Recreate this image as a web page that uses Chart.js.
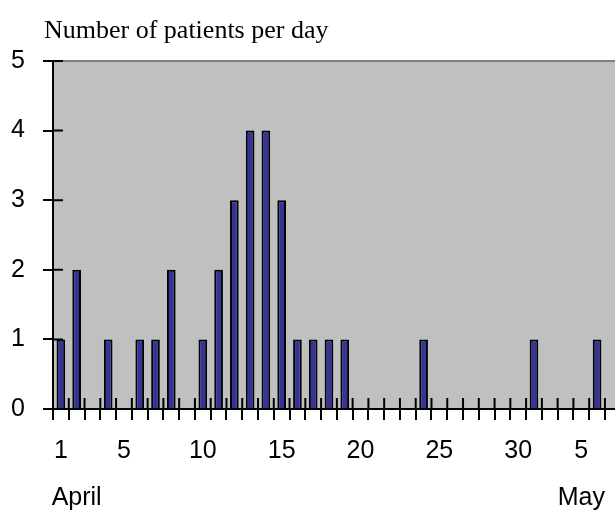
<!DOCTYPE html>
<html>
<head>
<meta charset="utf-8">
<script src="https://cdn.jsdelivr.net/npm/chart.js@4"></script>
<style>
  html, body { margin: 0; padding: 0; background: #fff; overflow: hidden; }
  canvas { display: block; }
</style>
</head>
<body>
<canvas id="patientsChart" width="632" height="510"></canvas>
<script>
// patients per day, 1 April .. 5 May
const patients = [1, 2, 0, 1, 0, 1, 1, 2, 0, 1,
                  2, 3, 4, 4, 3, 1, 1, 1, 1, 0,
                  0, 0, 0, 1, 0, 0, 0, 0, 0, 0,
                  1, 0, 0, 0, 1];

// tick labels as printed under the axis (last slot is the cut-off edge)
const dayLabels = ["1", "", "", "", "5", "", "", "", "", "10",
                   "", "", "", "", "15", "", "", "", "", "20",
                   "", "", "", "", "25", "", "", "", "", "30",
                   "", "", "", "5", "", ""];
const monthLabels = ["", "April", "", "", "", "", "", "", "", "",
                     "", "", "", "", "", "", "", "", "", "",
                     "", "", "", "", "", "", "", "", "", "",
                     "", "", "", "May", "", ""];
const yTicks = [0, 1, 2, 3, 4, 5];
const chartTitle = "Number of patients per day";

const plotBg = {
  id: "plotBg",
  beforeDraw(chart) {
    const { ctx, chartArea: a } = chart;
    ctx.save();
    ctx.fillStyle = "#c0c0c0";
    ctx.fillRect(a.left, a.top, a.right - a.left, a.bottom - a.top);
    ctx.strokeStyle = "#808080";
    ctx.lineWidth = 2;
    ctx.beginPath();
    ctx.moveTo(a.left, a.top);
    ctx.lineTo(a.right, a.top);
    ctx.stroke();
    // title sits left of the plot, like the old spreadsheet one
    ctx.fillStyle = "#000";
    ctx.font = '26px "Liberation Serif"';
    ctx.textBaseline = "alphabetic";
    ctx.fillText(chartTitle, 44, 38);
    ctx.restore();
  },
  // tick marks also reach into the plot
  afterDraw(chart) {
    const { ctx, chartArea: a, scales } = chart;
    ctx.save();
    ctx.strokeStyle = "#000";
    ctx.lineWidth = 2;
    ctx.beginPath();
    for (let i = 0; i <= dayLabels.length; i++) {
      const x = scales.x.getPixelForValue(i - 0.5);
      ctx.moveTo(x, a.bottom);
      ctx.lineTo(x, a.bottom - 11);
    }
    yTicks.forEach(v => {
      const y = scales.y.getPixelForValue(v);
      ctx.moveTo(a.left, y);
      ctx.lineTo(a.left + 10, y);
    });
    ctx.stroke();
    ctx.restore();
  }
};

new Chart(document.getElementById("patientsChart"), {
  type: "bar",
  data: {
    labels: dayLabels,
    datasets: [{
      data: patients,
      backgroundColor: "#333399",
      borderColor: "#000",
      borderWidth: 2,
      categoryPercentage: 1,
      barPercentage: 0.55
    }]
  },
  options: {
    responsive: false,
    animation: false,
    layout: { padding: { left: 0, right: 3, top: 61, bottom: 0 } },
    plugins: {
      legend: { display: false },
      tooltip: { enabled: false }
    },
    scales: {
      x: {
        grid: { drawOnChartArea: false, tickLength: 11, color: "#000", lineWidth: 2 },
        border: { color: "#000", width: 2 },
        ticks: {
          autoSkip: false, maxRotation: 0, padding: 16, color: "#000",
          font: { family: "Liberation Sans", size: 25 }
        },
        afterFit(s) { s.height = 55; }
      },
      month: {
        type: "category",
        labels: monthLabels,
        position: "bottom",
        grid: { display: false, drawTicks: false },
        border: { display: false },
        ticks: {
          autoSkip: false, maxRotation: 0, padding: 19, color: "#000",
          font: { family: "Liberation Sans", size: 25 }
        },
        afterFit(s) { s.height = 46; }
      },
      y: {
        min: 0,
        max: 5,
        grid: { drawOnChartArea: false, tickLength: 10, color: "#000", lineWidth: 2 },
        border: { color: "#000", width: 2 },
        ticks: {
          stepSize: 1, padding: 18, color: "#000",
          font: { family: "Liberation Sans", size: 25 }
        },
        afterFit(s) { s.width = 53; }
      }
    }
  },
  plugins: [plotBg]
});
</script>
</body>
</html>
